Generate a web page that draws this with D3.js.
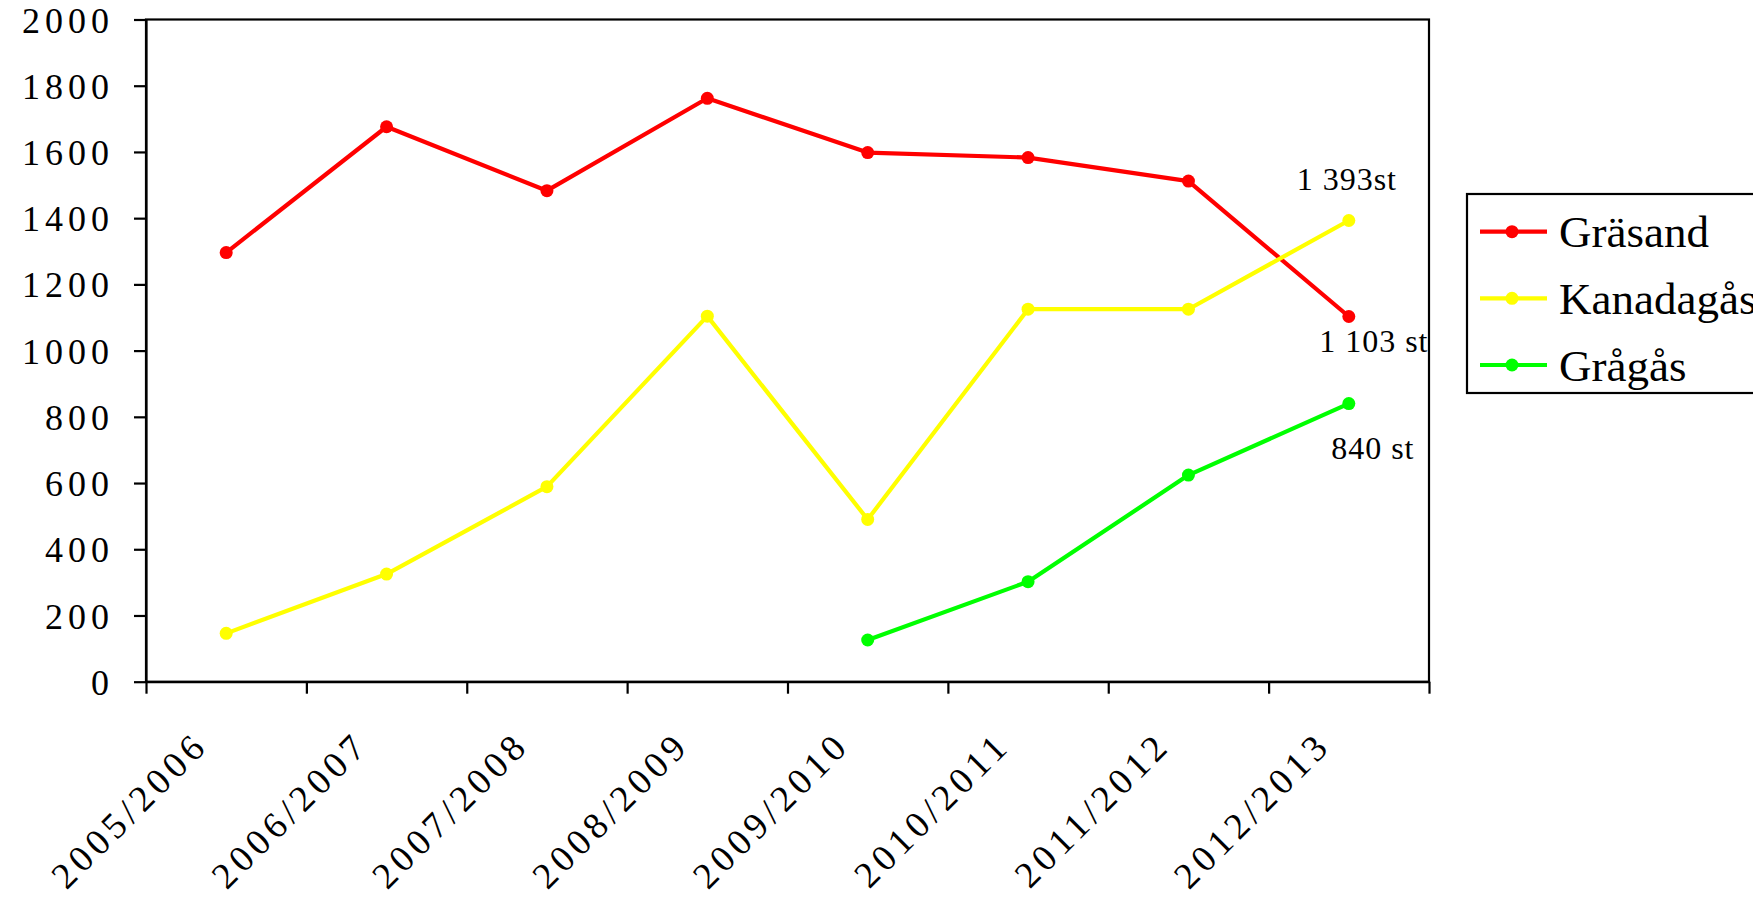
<!DOCTYPE html>
<html lang="sv">
<meta charset="utf-8">
<head>
    <script src="https://d3js.org/d3.v7.min.js"></script>
    <style>
        body { margin: 0; background: #fff; }
        svg text { font-family: "Liberation Serif", "DejaVu Serif", serif; fill: #000; font-variant-numeric: oldstyle-nums; }
    </style>
</head>
<body>
<svg id="chart"></svg>

<script>
// data
var seasons = ["2005/2006", "2006/2007", "2007/2008", "2008/2009", "2009/2010", "2010/2011", "2011/2012", "2012/2013"];
var grasand = [1296, 1676, 1483, 1762, 1598, 1583, 1512, 1103];
var kanadagas = [146, 325, 589, 1104, 490, 1125, 1125, 1393];
var gragas = [null, null, null, null, 126, 302, 624, 840];
var seriesNames = ["Gräsand", "Kanadagås", "Grågås"];
var seriesColors = ["#ff0000", "#ffff00", "#00ff00"];
var yTicks = [0, 200, 400, 600, 800, 1000, 1200, 1400, 1600, 1800, 2000];
var endLabels = ["1 103 st", "1 393st", "840 st"];

var width = 1753,
    height = 897;

var svg = d3.select("svg#chart")
    .attr("width", width)
    .attr("height", height);

var plotLeft = 146, plotRight = 1429, plotTop = 19.5, plotBottom = 681.7;

var x = d3.scaleBand().domain(seasons).range([plotLeft, plotRight]);
var xEdge = d3.scaleLinear().domain([0, seasons.length]).range([plotLeft, plotRight]);
var y = d3.scaleLinear().domain([0, 2000]).range([plotBottom, plotTop]);

function cx(i) { return x(seasons[i]) + x.bandwidth() / 2; }

// frame
svg.append("rect")
    .attr("x", plotLeft).attr("y", plotTop)
    .attr("width", plotRight - plotLeft).attr("height", plotBottom - plotTop)
    .attr("fill", "none").attr("stroke", "#000").attr("stroke-width", 2.2);

// y axis
var yAxis = svg.append("g")
    .attr("transform", "translate(" + plotLeft + ",0)")
    .call(d3.axisLeft(y).tickValues(yTicks).tickSize(12).tickSizeOuter(0).tickPadding(20).tickFormat(d3.format("d")));
yAxis.select(".domain").attr("stroke-width", 2.2);
yAxis.selectAll(".tick line").attr("stroke-width", 2.2);
yAxis.selectAll(".tick text")
    .style("font-size", "36px")
    .style("letter-spacing", "5px")
    .attr("dy", "0.35em");

// x axis (ticks on the band edges)
var xAxis = svg.append("g")
    .attr("transform", "translate(0," + plotBottom + ")")
    .call(d3.axisBottom(xEdge).tickValues(d3.range(seasons.length + 1)).tickSize(12).tickSizeOuter(0).tickFormat(""));
xAxis.select(".domain").attr("stroke-width", 2.2);
xAxis.selectAll(".tick line").attr("stroke-width", 2.2);

svg.append("g")
    .selectAll("text")
    .data(seasons)
    .enter()
    .append("text")
      .attr("transform", function (d) {
        return "translate(" + (x(d) + x.bandwidth() / 2 - 16) + ",747) rotate(-45)";
      })
      .attr("text-anchor", "end")
      .style("font-size", "37px")
      .style("letter-spacing", "5px")
      .text(function (d) { return d; });

// lines
var allSeries = [grasand, kanadagas, gragas];
var line = d3.line()
    .defined(function (d) { return d != null; })
    .x(function (d, i) { return cx(i); })
    .y(function (d) { return y(d); });

allSeries.forEach(function (vals, k) {
  var g = svg.append("g");
  g.append("path")
    .datum(vals)
    .attr("d", line)
    .attr("fill", "none")
    .attr("stroke", seriesColors[k])
    .attr("stroke-width", 4.2)
    .attr("stroke-linejoin", "round");
  var pts = vals.map(function (v, i) { return { v: v, i: i }; })
    .filter(function (p) { return p.v != null; });
  g.selectAll("circle")
    .data(pts)
    .enter()
    .append("circle")
      .attr("cx", function (p) { return cx(p.i); })
      .attr("cy", function (p) { return y(p.v); })
      .attr("r", 6.5)
      .attr("fill", seriesColors[k]);
});

// end labels
var last = seasons.length - 1;
var labelOffsets = [[25, 36], [-2, -30], [24, 55]];
allSeries.forEach(function (vals, k) {
  svg.append("text")
    .attr("x", cx(last) + labelOffsets[k][0])
    .attr("y", y(vals[last]) + labelOffsets[k][1])
    .attr("text-anchor", "middle")
    .style("font-size", "32px")
    .style("letter-spacing", "1px")
    .text(endLabels[k]);
});

// legend
var legend = svg.append("g");
legend.append("rect")
    .attr("x", 1467).attr("y", 194)
    .attr("width", 400).attr("height", 199)
    .attr("fill", "#fff").attr("stroke", "#000").attr("stroke-width", 2.2);

var rowY = d3.scalePoint().domain(seriesNames).range([231.7, 365]);
seriesNames.forEach(function (name, k) {
  var ly = rowY(name);
  legend.append("line")
    .attr("x1", 1480).attr("x2", 1547)
    .attr("y1", ly).attr("y2", ly)
    .attr("stroke", seriesColors[k]).attr("stroke-width", 4.2);
  legend.append("circle")
    .attr("cx", 1512).attr("cy", ly).attr("r", 6.5)
    .attr("fill", seriesColors[k]);
  legend.append("text")
    .attr("x", 1559).attr("y", ly)
    .attr("dy", "0.35em")
    .style("font-size", "45px")
    .text(name);
});
</script>
</body>
</html>
